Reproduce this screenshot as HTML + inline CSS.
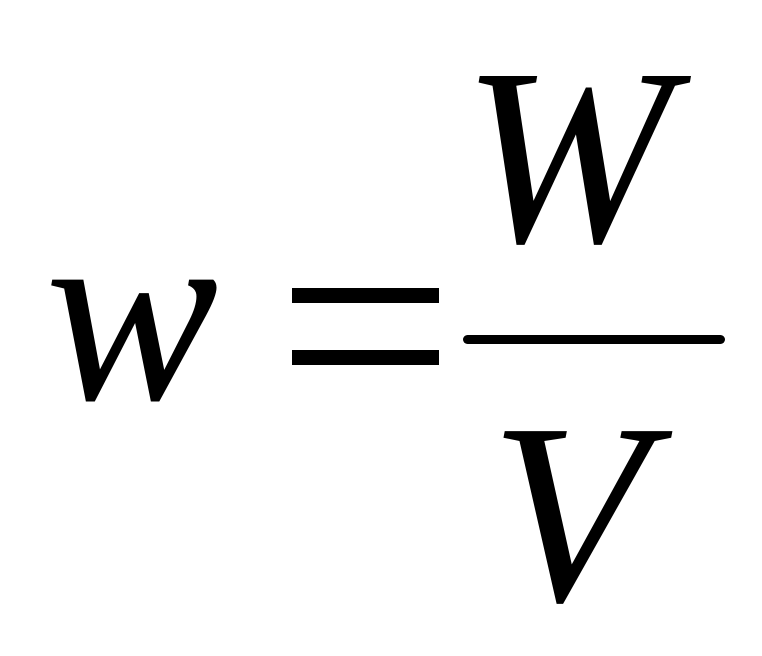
<!DOCTYPE html>
<html><head><meta charset="utf-8"><style>
html,body{margin:0;padding:0;background:#fff;width:762px;height:656px;overflow:hidden}
svg{display:block}
text{font-family:"Liberation Serif",serif;font-style:italic;fill:#000}
</style></head><body>
<svg width="762" height="656" viewBox="0 0 762 656">
<text x="45" y="399" font-size="260">w</text>
<rect x="292" y="288" width="147" height="15" fill="#000"/>
<rect x="292" y="350" width="147" height="15" fill="#000"/>
<line x1="467.5" y1="339.5" x2="720.5" y2="339.5" stroke="#000" stroke-width="9" stroke-linecap="round"/>
<text x="462" y="241" font-size="252">W</text>
<text x="490" y="600" font-size="258">V</text>
</svg>
</body></html>
